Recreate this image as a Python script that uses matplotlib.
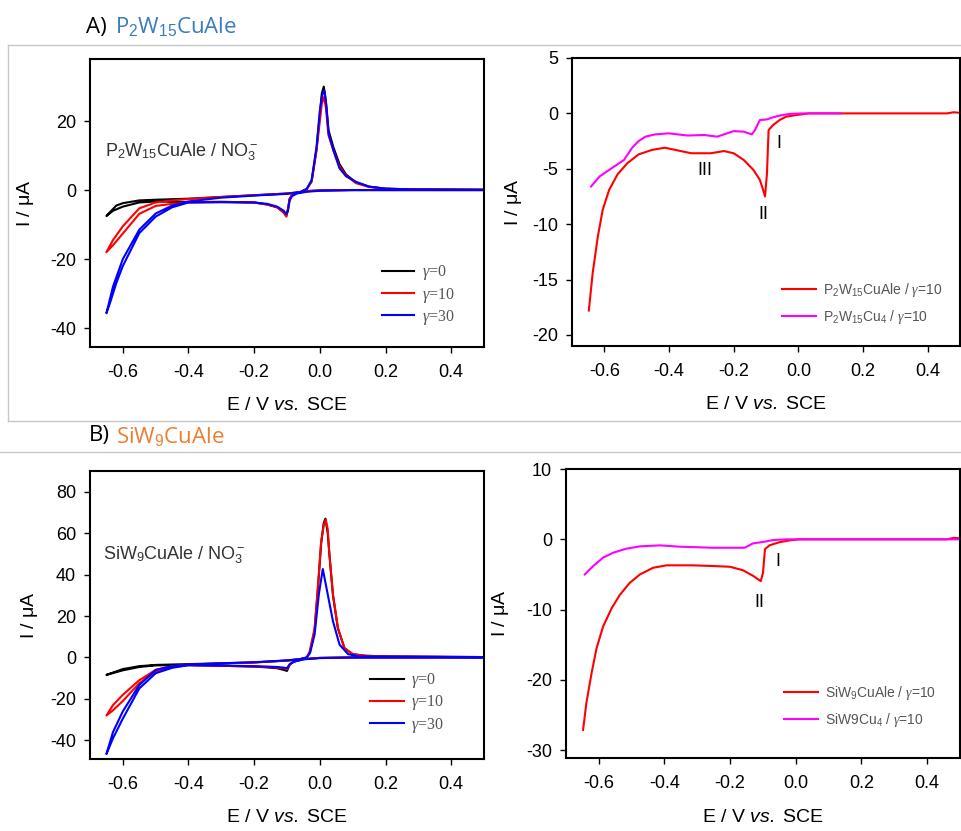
import matplotlib
matplotlib.use("Agg")
import matplotlib.pyplot as plt
from matplotlib.lines import Line2D

plt.rcParams['font.family'] = ['Liberation Sans', 'DejaVu Sans']
plt.rcParams['mathtext.fontset'] = 'custom'
plt.rcParams['mathtext.rm'] = 'Liberation Sans'
plt.rcParams['mathtext.it'] = 'Liberation Serif:italic'
plt.rcParams['mathtext.sf'] = 'Liberation Sans:italic'
plt.rcParams['mathtext.bf'] = 'Liberation Sans:bold'
plt.rcParams['axes.unicode_minus'] = False

# ---------------- data ----------------
# A) P2W15CuAle cyclic voltammograms (cathodic branch then anodic branch)
a_g0_E = [0.5, 0.3, 0.1, 0.0, -0.04, -0.07, -0.085, -0.092, -0.097, -0.102, -0.11, -0.13, -0.16, -0.2, -0.3, -0.4, -0.5, -0.55, -0.6, -0.63, -0.65,
          -0.62, -0.6, -0.55, -0.5, -0.4, -0.3, -0.2, -0.1, -0.06, -0.04, -0.025, -0.01, 0.0, 0.006, 0.012, 0.018, 0.026, 0.041, 0.06, 0.08, 0.11, 0.15, 0.2, 0.28, 0.5]
a_g0_I = [0.0, 0.0, 0.0, -0.1, -0.3, -0.8, -1.5, -2.5, -5.5, -7.5, -6.5, -5.0, -4.2, -3.6, -3.4, -3.5, -3.3, -3.6, -4.8, -6.0, -7.5,
          -4.5, -3.8, -3.0, -2.8, -2.5, -2.0, -1.5, -1.0, -0.6, 0.3, 2.5, 12.0, 22.0, 28.0, 30.0, 26.0, 17.5, 12.5, 7.5, 4.5, 2.2, 1.0, 0.4, 0.2, 0.1]

a_g10_E = [0.5, 0.3, 0.1, 0.0, -0.04, -0.07, -0.085, -0.092, -0.097, -0.102, -0.11, -0.13, -0.16, -0.2, -0.3, -0.4, -0.45, -0.5, -0.55, -0.6, -0.63, -0.65,
           -0.63, -0.6, -0.55, -0.5, -0.45, -0.4, -0.3, -0.2, -0.1, -0.06, -0.04, -0.025, -0.01, 0.0, 0.006, 0.013, 0.019, 0.026, 0.041, 0.06, 0.08, 0.11, 0.15, 0.2, 0.28, 0.5]
a_g10_I = [0.0, 0.0, 0.0, -0.1, -0.3, -0.8, -1.5, -2.5, -5.5, -7.7, -6.5, -5.0, -4.2, -3.6, -3.5, -3.6, -4.0, -4.6, -6.9, -12.6, -16.0, -18.0,
           -14.5, -10.5, -5.3, -3.6, -3.0, -2.6, -2.0, -1.5, -1.0, -0.6, 0.3, 2.5, 11.5, 20.0, 25.0, 27.0, 23.5, 16.0, 11.6, 6.8, 4.2, 2.0, 0.9, 0.4, 0.2, 0.1]

a_g30_E = [0.5, 0.3, 0.1, 0.0, -0.04, -0.07, -0.085, -0.092, -0.097, -0.102, -0.11, -0.13, -0.16, -0.2, -0.3, -0.4, -0.45, -0.5, -0.55, -0.6, -0.62, -0.64, -0.65,
           -0.63, -0.6, -0.55, -0.5, -0.45, -0.4, -0.3, -0.2, -0.1, -0.06, -0.04, -0.025, -0.01, 0.0, 0.007, 0.014, 0.02, 0.027, 0.041, 0.06, 0.08, 0.11, 0.15, 0.2, 0.28, 0.5]
a_g30_I = [0.0, 0.0, 0.0, -0.2, -0.5, -1.0, -1.8, -3.0, -6.0, -7.0, -6.0, -4.8, -4.0, -3.6, -3.5, -3.6, -5.0, -7.7, -12.5, -22.0, -27.0, -33.0, -35.7,
           -28.0, -20.0, -11.5, -6.8, -4.5, -3.3, -2.2, -1.6, -1.1, -0.6, 0.3, 2.9, 12.5, 23.0, 27.5, 28.8, 24.5, 16.4, 11.6, 6.3, 4.0, 2.4, 1.0, 0.4, 0.2, 0.1]

# A) linear sweeps at gamma = 10
a_lsv_E = [-0.648, -0.636, -0.62, -0.605, -0.585, -0.559, -0.529, -0.494, -0.453, -0.413, -0.372, -0.331, -0.271, -0.23, -0.2, -0.169, -0.139, -0.119,
           -0.109, -0.103, -0.097, -0.092, -0.078, -0.058, -0.038, -0.007, 0.033, 0.2, 0.46, 0.48, 0.5]
a_lsv_I = [-17.8, -14.4, -11.1, -8.7, -6.9, -5.5, -4.5, -3.7, -3.3, -3.1, -3.35, -3.6, -3.6, -3.4, -3.6, -4.2, -5.1, -6.0,
           -6.9, -7.5, -5.4, -1.5, -1.05, -0.6, -0.3, -0.15, 0.0, 0.0, 0.0, 0.1, 0.05]
a_cu4_E = [-0.641, -0.615, -0.575, -0.539, -0.514, -0.494, -0.473, -0.443, -0.402, -0.342, -0.291, -0.251, -0.22, -0.2, -0.169, -0.144, -0.134,
           -0.119, -0.098, -0.078, -0.058, -0.028, 0.013, 0.13]
a_cu4_I = [-6.6, -5.7, -4.9, -4.2, -3.1, -2.5, -2.1, -1.9, -1.8, -2.0, -1.95, -2.1, -1.8, -1.6, -1.65, -1.9, -1.5,
           -0.6, -0.55, -0.35, -0.2, -0.05, 0.0, 0.0]

# B) SiW9CuAle cyclic voltammograms
b_g0_E = [0.5, 0.1, 0.0, -0.05, -0.08, -0.092, -0.1, -0.11, -0.13, -0.16, -0.2, -0.3, -0.4, -0.5, -0.55, -0.6, -0.65,
          -0.6, -0.55, -0.5, -0.4, -0.3, -0.2, -0.1, -0.06, -0.04, -0.03, -0.016, -0.006, 0.004, 0.012, 0.017, 0.024, 0.029, 0.04, 0.055, 0.075, 0.1, 0.14, 0.22, 0.5]
b_g0_I = [0.0, 0.0, -0.2, -0.8, -2.0, -3.5, -6.5, -6.0, -5.2, -4.8, -4.4, -4.0, -3.7, -3.8, -4.6, -6.2, -8.4,
          -5.6, -4.2, -3.6, -3.2, -2.8, -2.4, -1.5, -0.8, 0.0, 2.5, 13.0, 33.0, 55.0, 65.0, 67.0, 60.0, 50.0, 30.0, 14.0, 4.5, 1.6, 0.8, 0.5, 0.2]

b_g10_E = [0.5, 0.1, 0.0, -0.05, -0.08, -0.092, -0.1, -0.11, -0.13, -0.16, -0.2, -0.3, -0.4, -0.45, -0.5, -0.55, -0.6, -0.63, -0.65,
           -0.63, -0.6, -0.55, -0.5, -0.45, -0.4, -0.3, -0.2, -0.1, -0.06, -0.04, -0.031, -0.016, -0.006, 0.004, 0.012, 0.018, 0.024, 0.029, 0.04, 0.055, 0.075, 0.1, 0.141, 0.222, 0.5]
b_g10_I = [0.0, 0.0, -0.2, -0.8, -2.0, -3.5, -5.5, -5.2, -4.9, -4.6, -4.4, -4.0, -3.7, -4.6, -6.8, -12.5, -21.0, -25.5, -28.0,
           -23.0, -18.0, -11.0, -6.0, -4.2, -3.5, -2.9, -2.4, -1.5, -0.8, 0.0, 2.9, 14.0, 34.0, 56.0, 64.0, 66.5, 62.0, 50.0, 30.5, 14.3, 4.5, 1.6, 0.8, 0.5, 0.2]

b_g30_E = [0.5, 0.1, 0.0, -0.05, -0.08, -0.092, -0.1, -0.11, -0.13, -0.16, -0.2, -0.3, -0.4, -0.45, -0.5, -0.55, -0.6, -0.63, -0.65,
           -0.63, -0.6, -0.55, -0.5, -0.45, -0.4, -0.3, -0.2, -0.1, -0.06, -0.04, -0.03, -0.016, -0.003, 0.009, 0.024, 0.04, 0.06, 0.086, 0.12, 0.5]
b_g30_I = [0.0, 0.0, -0.3, -0.9, -2.1, -3.3, -5.2, -4.9, -4.6, -4.4, -4.2, -3.9, -3.7, -5.0, -7.6, -15.0, -29.5, -39.0, -46.6,
           -36.0, -26.0, -13.3, -6.0, -4.2, -3.5, -2.8, -2.3, -1.4, -0.8, 0.0, 2.1, 11.0, 30.5, 42.7, 30.5, 17.5, 6.2, 1.6, 0.5, 0.1]

# B) linear sweeps at gamma = 10
b_lsv_E = [-0.648, -0.638, -0.622, -0.607, -0.587, -0.561, -0.536, -0.506, -0.475, -0.435, -0.394, -0.313, -0.252, -0.201, -0.161, -0.13, -0.107,
           -0.1, -0.094, -0.08, -0.049, -0.019, 0.012, 0.2, 0.46, 0.48, 0.5]
b_lsv_I = [-27.1, -23.3, -19.0, -15.5, -12.4, -9.8, -7.9, -6.2, -5.0, -4.05, -3.7, -3.7, -3.8, -3.9, -4.4, -5.2, -5.95,
           -4.8, -1.4, -0.85, -0.4, -0.15, 0.0, 0.0, 0.0, 0.2, 0.15]
b_cu4_E = [-0.643, -0.617, -0.587, -0.556, -0.516, -0.475, -0.414, -0.353, -0.252, -0.156, -0.13, -0.1, -0.069, -0.029, 0.1, 0.3, 0.5]
b_cu4_I = [-5.0, -3.8, -2.6, -1.9, -1.33, -1.0, -0.86, -1.05, -1.2, -1.2, -0.57, -0.38, -0.1, 0.0, 0.0, 0.0, 0.0]

x_ticks = [-0.6, -0.4, -0.2, 0.0, 0.2, 0.4]
W, H = 962, 831

fig = plt.figure(figsize=(W / 100, H / 100), dpi=100)


def rect(l, t, r, b):
    return [l / W, 1 - b / H, (r - l) / W, (b - t) / H]


def hline(y, x0, x1):
    fig.add_artist(Line2D([x0 / W, x1 / W], [1 - y / H, 1 - y / H], transform=fig.transFigure, color='#c8c8c8', lw=1))


def vline(x, y0, y1):
    fig.add_artist(Line2D([x / W, x / W], [1 - y0 / H, 1 - y1 / H], transform=fig.transFigure, color='#c8c8c8', lw=1))


hline(45, 8, 962)
vline(8, 45, 421)
hline(421, 8, 962)
hline(452, 0, 962)


def style(ax, ylim, yticks, ylab_x):
    ax.set_xlim(-0.7, 0.5)
    ax.set_ylim(*ylim)
    ax.set_xticks(x_ticks)
    ax.set_xticklabels(['%.1f' % v for v in x_ticks])
    ax.set_yticks(yticks)
    for s in ax.spines.values():
        s.set_linewidth(1.5)
    ax.tick_params(direction='out', length=4, width=1, labelsize=13, pad=6)
    ax.tick_params(axis='x', pad=8)
    ax.set_xlabel(r'E / V $\mathsf{vs.}$ SCE', fontsize=14)
    ax.set_ylabel(r'I / $\mathrm{\mu}$A', fontsize=14)
    ax.xaxis.set_label_coords(0.5, -0.175)
    ax.yaxis.set_label_coords(ylab_x, 0.5)


lw = 1.5
gray = '#555555'

# ---- A left ----
ax1 = fig.add_axes(rect(90, 59, 484, 347))
ax1.plot(a_g0_E, a_g0_I, color='black', lw=lw, label=r'$\gamma$=0')
ax1.plot(a_g10_E, a_g10_I, color='#ff0000', lw=lw, label=r'$\gamma$=10')
ax1.plot(a_g30_E, a_g30_I, color='#0000ff', lw=lw, label=r'$\gamma$=30')
style(ax1, (-45.5, 38), [-40, -20, 0, 20], -0.137)
ax1.text(0.038, 0.677, r'P$_2$W$_{15}$CuAle / NO$_3^-$', transform=ax1.transAxes, fontsize=13, color='#333333', va='center')
ax1.legend(loc='upper left', bbox_to_anchor=(0.741, 0.29), frameon=False, prop={'family': 'Liberation Serif', 'size': 11.5},
           labelcolor=gray, handlelength=2.0, handletextpad=0.5, labelspacing=0.2, borderpad=0, borderaxespad=0)

# ---- A right ----
ax2 = fig.add_axes(rect(572, 58, 960, 346))
ax2.plot(a_lsv_E, a_lsv_I, color='#ff0000', lw=lw, label=r'P$_2$W$_{15}$CuAle / $\gamma$=10')
ax2.plot(a_cu4_E, a_cu4_I, color='#ff00ff', lw=lw, label=r'P$_2$W$_{15}$Cu$_4$ / $\gamma$=10')
style(ax2, (-21, 5), [-20, -15, -10, -5, 0, 5], -0.124)
ax2.text(-0.06, -2.7, 'I', fontsize=13, ha='center', va='center')
ax2.text(-0.107, -9.1, 'II', fontsize=13, ha='center', va='center')
ax2.text(-0.288, -5.2, 'III', fontsize=13, ha='center', va='center')
ax2.legend(loc='upper left', bbox_to_anchor=(0.542, 0.225), frameon=False, fontsize=10, labelcolor=gray,
           handlelength=2.4, handletextpad=0.5, labelspacing=0.6, borderpad=0, borderaxespad=0)

# ---- B left ----
ax3 = fig.add_axes(rect(90, 471, 484, 759))
ax3.plot(b_g0_E, b_g0_I, color='black', lw=lw, label=r'$\gamma$=0')
ax3.plot(b_g10_E, b_g10_I, color='#ff0000', lw=lw, label=r'$\gamma$=10')
ax3.plot(b_g30_E, b_g30_I, color='#0000ff', lw=lw, label=r'$\gamma$=30')
style(ax3, (-49, 90), [-40, -20, 0, 20, 40, 60, 80], -0.127)
ax3.text(0.033, 0.708, r'SiW$_9$CuAle / NO$_3^-$', transform=ax3.transAxes, fontsize=13, color='#333333', va='center')
ax3.legend(loc='upper left', bbox_to_anchor=(0.711, 0.305), frameon=False, prop={'family': 'Liberation Serif', 'size': 11.5},
           labelcolor=gray, handlelength=2.1, handletextpad=0.45, labelspacing=0.2, borderpad=0, borderaxespad=0)

# ---- B right ----
ax4 = fig.add_axes(rect(566, 469, 960, 758))
ax4.plot(b_lsv_E, b_lsv_I, color='#ff0000', lw=lw, label=r'SiW$_9$CuAle / $\gamma$=10')
ax4.plot(b_cu4_E, b_cu4_I, color='#ff00ff', lw=lw, label=r'SiW9Cu$_4$ / $\gamma$=10')
style(ax4, (-31.1, 10), [-30, -20, -10, 0, 10], -0.14)
ax4.text(-0.054, -3.1, 'I', fontsize=13, ha='center', va='center')
ax4.text(-0.112, -9.0, 'II', fontsize=13, ha='center', va='center')
ax4.legend(loc='upper left', bbox_to_anchor=(0.554, 0.255), frameon=False, fontsize=10, labelcolor=gray,
           handlelength=2.4, handletextpad=0.5, labelspacing=0.6, borderpad=0, borderaxespad=0)

# ---- headings ----
fig.text(86 / W, 1 - 27 / H, 'A)', fontsize=16, family='Open Sans', va='center', color='black')
fig.text(115 / W, 1 - 27 / H, r'P$_2$W$_{15}$CuAle', fontsize=16, family='Open Sans', va='center', color='#3a7cc0')
fig.text(89 / W, 1 - 436 / H, 'B)', fontsize=16, family='Open Sans', va='center', color='black')
fig.text(116 / W, 1 - 436 / H, r'SiW$_9$CuAle', fontsize=16, family='Open Sans', va='center', color='#ed7d31')

fig.savefig('out.png', dpi=100)
